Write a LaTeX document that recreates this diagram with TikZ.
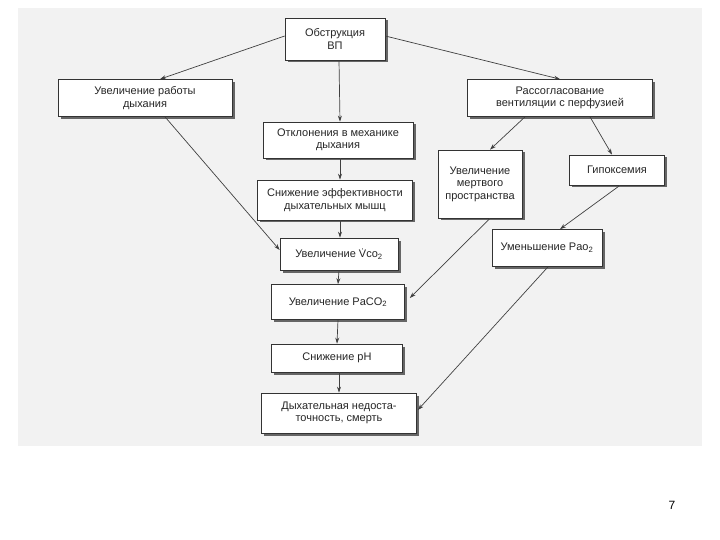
\documentclass[tikz,border=0pt]{standalone}
\usepackage{fontspec}
\setmainfont{Liberation Sans}
\usetikzlibrary{arrows.meta,shadows}

\tikzset{
  blok/.style={draw=black!80,line width=.7pt,fill=white,align=center,
    font=\fontsize{11}{12.5}\selectfont,text=black!85,inner sep=1pt,
    drop shadow={shadow xshift=2.5pt,shadow yshift=-2.5pt,fill=black!60,opacity=1}},
  strl/.style={draw=black!75,line width=.7pt,-{Stealth[length=6pt,width=4pt]}}
}

\begin{document}
\begin{tikzpicture}[x=1pt,y=-1pt]
\useasboundingbox (0,0) rectangle (720,540);
\fill[black!5] (18,8) rectangle (702,446);

% boxes
\node[blok,minimum width=100,minimum height=42] (ob) at (335,39) {Обструкция\\ВП};
\node[blok,minimum width=174,minimum height=37] (rab) at (145,98) {Увеличение работы\\дыхания};
\node[blok,minimum width=185,minimum height=37] (ras) at (560,98) {Рассогласование\\вентиляции с перфузией};
\node[blok,minimum width=150,minimum height=36] (mex) at (338,140) {Отклонения в механике\\дыхания};
\node[blok,minimum width=155,minimum height=40] (eff) at (335,200) {Снижение эффективности\\дыхательных мышц};
\node[blok,minimum width=84,minimum height=68] (mert) at (480,184) {Увеличение\\мертвого\\пространства};
\node[blok,minimum width=95,minimum height=30] (gip) at (617,170) {Гипоксемия};
\node[blok,minimum width=118,minimum height=32] (vco) at (339,254) {Увеличение V̇co\textsubscript{2}};
\node[blok,minimum width=110,minimum height=37] (pao) at (547,248) {Уменьшение Pao\textsubscript{2}};
\node[blok,minimum width=133,minimum height=35] (paco) at (338,302) {Увеличение PaCO\textsubscript{2}};
\node[blok,minimum width=131,minimum height=28] (ph) at (337,358) {Снижение pH};
\node[blok,minimum width=155,minimum height=40] (dn) at (339,413) {Дыхательная недоста-\\точность, смерть};

% arrows
\draw[strl] ([yshift=3pt]ob.west) -- ([xshift=15pt]rab.north);
\draw[strl] ([yshift=3pt]ob.east) -- (ras.north);
\draw[strl] ([xshift=4pt]ob.south) -- ([xshift=2pt]mex.north);
\draw[strl] ([xshift=2pt]mex.south) -- ([xshift=5pt]eff.north);
\draw[strl] ([xshift=5pt]eff.south) -- ([xshift=1pt]vco.north);
\draw[strl] ([xshift=20pt]rab.south) -- ([yshift=4pt]vco.west);
\draw[strl] ([xshift=-35pt]ras.south) -- ([xshift=10pt]mert.north);
\draw[strl] ([xshift=30pt]ras.south) -- ([xshift=-5pt]gip.north);
\draw[strl] ([xshift=10pt]mert.south) -- ([yshift=4pt,xshift=5pt]paco.east);
\draw[strl] ([xshift=3pt]gip.south) -- ([xshift=13pt]pao.north);
\draw[strl] ([xshift=1pt]pao.south) -- ([yshift=3pt,xshift=1pt]dn.east);
\draw[strl] (vco.south) -- (paco.north);
\draw[strl] (paco.south) -- (ph.north);
\draw[strl] ([xshift=2pt]ph.south) -- ([xshift=0pt]dn.north);

\node[font=\fontsize{12}{14}\selectfont] (num) at (672,505) {7};
\end{tikzpicture}
\end{document}
